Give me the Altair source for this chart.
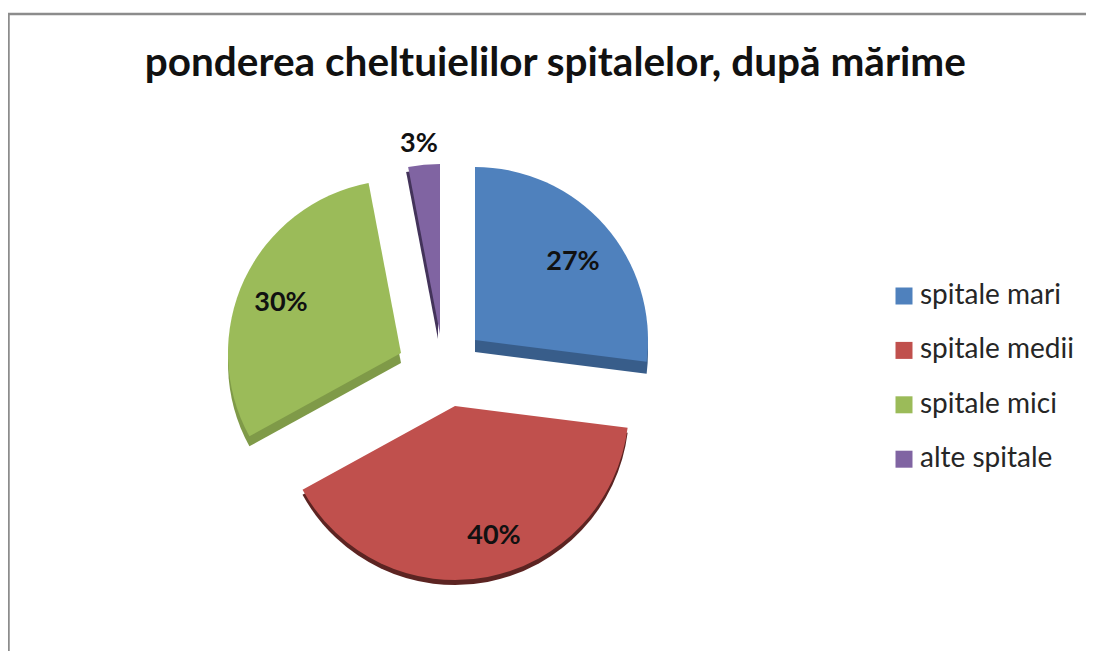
import altair as alt
import pandas as pd

categories = ["spitale mari", "spitale medii", "spitale mici", "alte spitale"]
shares = [27, 40, 30, 3]
labels = ["27%", "40%", "30%", "3%"]

colors = ["#4F81BD", "#C0504D", "#9BBB59", "#8064A2"]
side_colors = ["#385D8A", "#5C2422", "#7F9A48", "#43335A"]

# layout (page px; the page margin is subtracted below)
W, H = 1078, 643
OFF = 8
RADII = [173, 174, 173, 170]
DEPTH = [12, 5, 10, 5]
centers = [(475, 340), (455, 406), (401, 353), (440, 334)]
label_pos = [(573, 262), (494, 536), (281, 303), (419, 144)]

df = pd.DataFrame({"cat": categories, "share": shares, "label": labels})
df["end"] = df["share"].cumsum()
df["start"] = df["end"] - df["share"]

theta_scale = alt.Scale(domain=[0, 100], range=[0, 6.283185307])
color_scale = alt.Scale(domain=categories, range=colors)
frame_data = pd.DataFrame({"a": [0]})
layers = []

# frame
layers.append(alt.Chart(frame_data).mark_rule(color="#8C8C8C", strokeWidth=2.5).encode(
    x=alt.value(0), x2=alt.value(W), y=alt.value(6), y2=alt.value(6)))
layers.append(alt.Chart(frame_data).mark_rule(color="#8C8C8C", strokeWidth=2.5).encode(
    x=alt.value(0.5), x2=alt.value(0.5), y=alt.value(6), y2=alt.value(H)))

for i, cat in enumerate(categories):
    row = df[df["cat"] == cat]
    cx, cy = centers[i]
    side = alt.Chart(row).mark_arc(radius=RADII[i], color=side_colors[i]).encode(
        theta=alt.Theta("start:Q", scale=theta_scale),
        theta2="end:Q",
        x=alt.value(cx - OFF - (2 if i == 3 else 0)),
        y=alt.value(cy - OFF + DEPTH[i]),
    )
    top = alt.Chart(row).mark_arc(radius=RADII[i]).encode(
        theta=alt.Theta("start:Q", scale=theta_scale),
        theta2="end:Q",
        color=alt.Color("cat:N", scale=color_scale, legend=alt.Legend(
            title=None, orient="none", legendX=882, legendY=274,
            symbolType="square", symbolSize=289, symbolStrokeWidth=0,
            labelFont="Lato", labelFontSize=28, labelColor="#262626",
            labelOffset=2, rowPadding=26.4, labelLimit=300,
        )),
        x=alt.value(cx - OFF),
        y=alt.value(cy - OFF),
    )
    layers += [side, top]

for i, cat in enumerate(categories):
    row = df[df["cat"] == cat]
    lx, ly = label_pos[i]
    layers.append(alt.Chart(row).mark_text(
        font="Lato", fontWeight="bold", fontSize=27, color="#111111").encode(
        text="label:N",
        x=alt.value(lx - OFF),
        y=alt.value(ly - OFF),
    ))

chart = alt.layer(*layers).properties(
    width=W, height=H,
    title=alt.TitleParams(
        "ponderea cheltuielilor spitalelor, după mărime",
        font="Lato", fontSize=40.5, fontWeight="bold", color="#111111",
        anchor="start", dx=138, dy=80,
    ),
    autosize=alt.AutoSizeParams(type="none"),
    padding=0,
    background="white",
).configure_view(stroke=None)

chart.save("out.html", embed_options={"renderer": "svg", "actions": False})
